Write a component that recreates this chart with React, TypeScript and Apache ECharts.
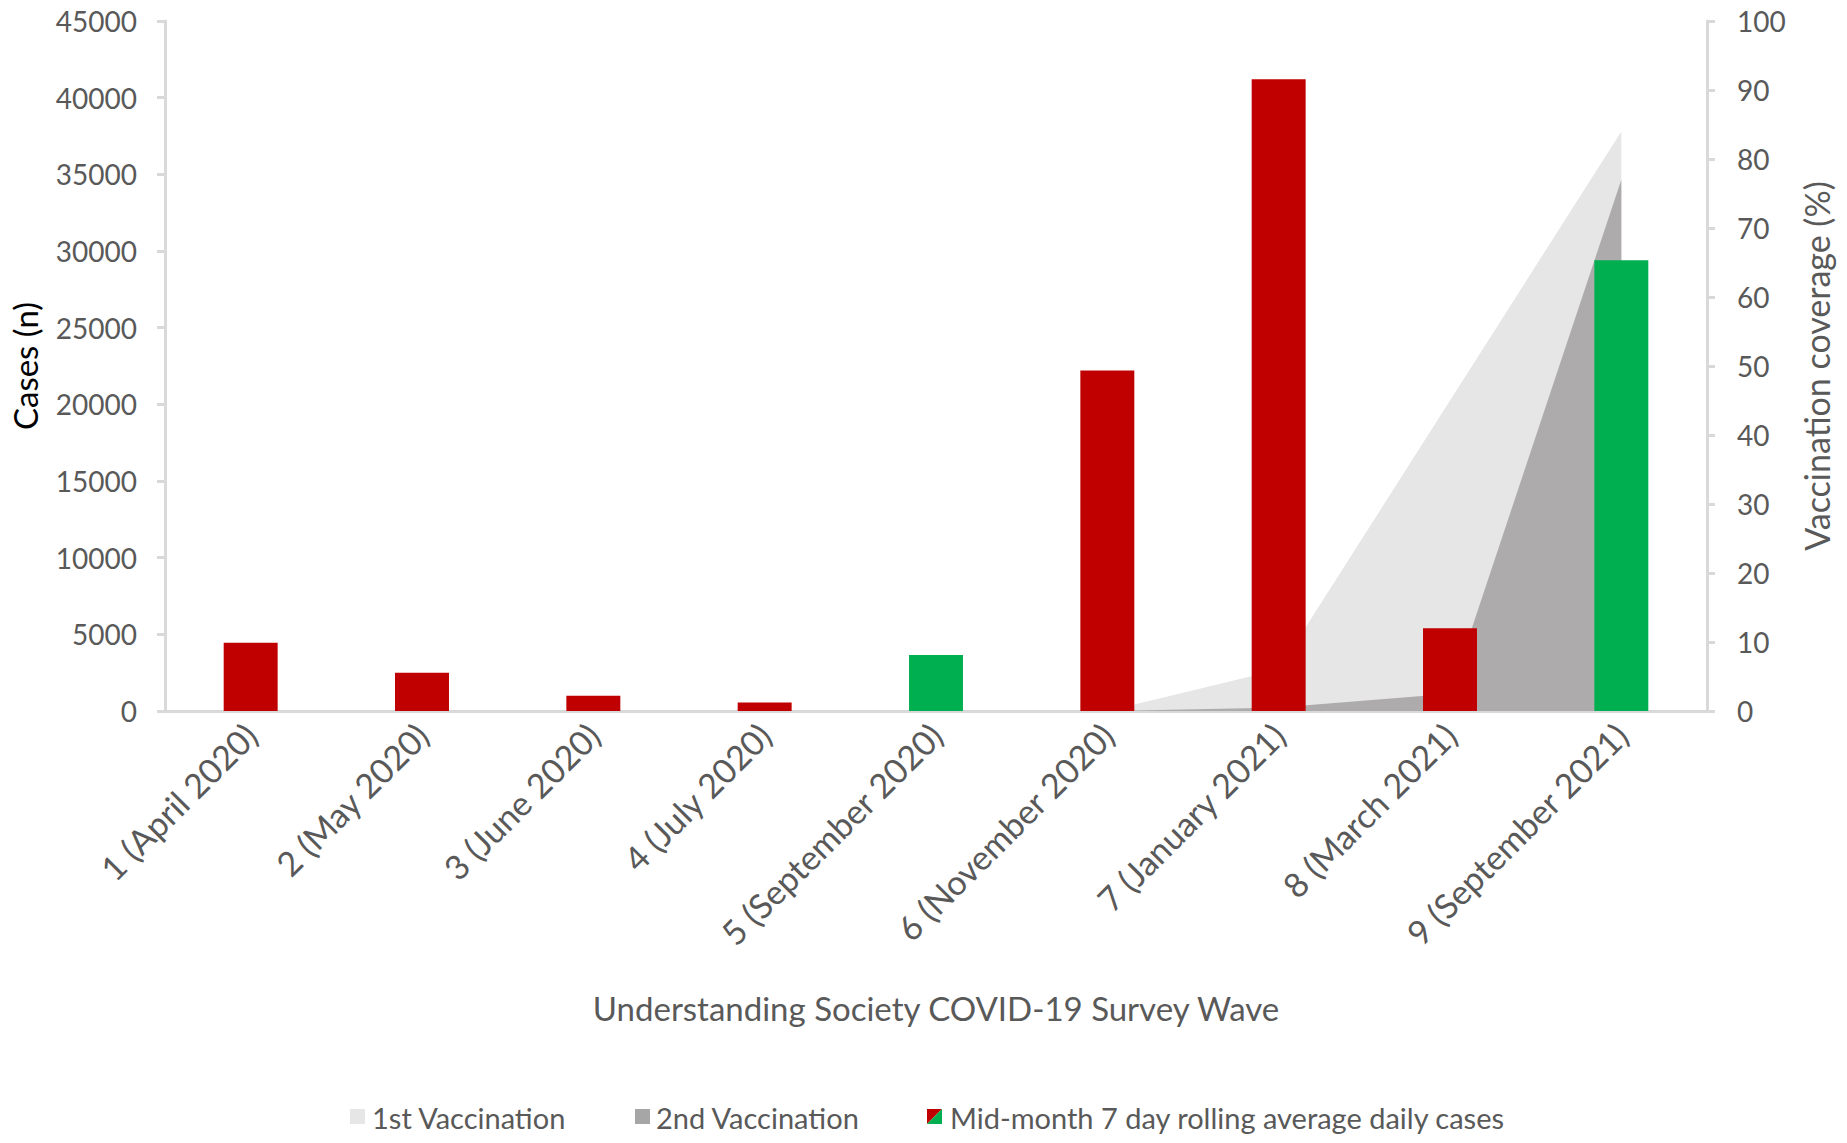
import React, { useEffect, useRef } from "react";
import * as echarts from "echarts";

const waves = [
  "1 (April 2020)",
  "2 (May 2020)",
  "3 (June 2020)",
  "4 (July 2020)",
  "5 (September 2020)",
  "6 (November 2020)",
  "7 (January 2021)",
  "8 (March 2021)",
  "9 (September 2021)",
];
const dailyCases = [4450, 2500, 1000, 550, 3650, 22200, 41200, 5400, 29400];
const firstVaccination = [null, null, null, null, null, 0, 6, 45, 84];
const secondVaccination = [null, null, null, null, null, 0, 0.5, 2.5, 77];
const casesTicks = { min: 0, max: 45000, interval: 5000 };
const coverageTicks = { min: 0, max: 100, interval: 10 };
const greenWaves = ["5 (September 2020)", "9 (September 2021)"];

const FONT = "Lato, 'Open Sans', sans-serif";
const GREY = "#595959";
const AXIS = "#d9d9d9";
const RED = "#c00000";
const GREEN = "#00b050";
const LIGHT = "#e6e6e7";
const DARK = "#adabab";

export default function App() {
  const ref = useRef<HTMLDivElement>(null);
  useEffect(() => {
    if (!ref.current) return;
    const chart = echarts.init(ref.current, undefined, { renderer: "svg" });
    const legendY = 1117;
    const legendFont = 29;
    chart.setOption({
      animation: false,
      backgroundColor: "#ffffff",
      textStyle: { fontFamily: FONT },
      grid: { left: 163, right: 140, top: 21, bottom: 432, containLabel: false },
      xAxis: {
        type: "category",
        data: waves,
        boundaryGap: true,
        axisLine: { show: true, lineStyle: { color: AXIS, width: 3 } },
        axisTick: { show: false },
        axisLabel: {
          rotate: 45,
          margin: 18,
          fontSize: 34,
          color: GREY,
          fontFamily: FONT,
          interval: 0,
        },
        name: "Understanding Society COVID-19 Survey Wave",
        nameLocation: "middle",
        nameGap: 280,
        nameTextStyle: { fontSize: 33, color: GREY, fontFamily: FONT },
      },
      yAxis: [
        {
          type: "value",
          position: "left",
          min: casesTicks.min,
          max: casesTicks.max,
          interval: casesTicks.interval,
          splitLine: { show: false },
          axisLine: { show: true, lineStyle: { color: AXIS, width: 3 } },
          axisTick: { show: true, inside: false, length: 8, lineStyle: { color: AXIS, width: 3 } },
          axisLabel: {
            fontSize: 28,
            color: GREY,
            margin: 28,
            fontFamily: FONT,
            formatter: (v: number) => String(v),
          },
          name: "Cases (n)",
          nameLocation: "middle",
          nameRotate: 90,
          nameGap: 124,
          nameTextStyle: { fontSize: 33, color: "#000000", fontFamily: FONT },
        },
        {
          type: "value",
          position: "right",
          min: coverageTicks.min,
          max: coverageTicks.max,
          interval: coverageTicks.interval,
          splitLine: { show: false },
          axisLine: { show: true, lineStyle: { color: AXIS, width: 3 } },
          axisTick: { show: true, inside: false, length: 8, lineStyle: { color: AXIS, width: 3 } },
          axisLabel: {
            fontSize: 28,
            color: GREY,
            margin: 30,
            fontFamily: FONT,
            formatter: (v: number) => String(v),
          },
          name: "Vaccination coverage (%)",
          nameLocation: "middle",
          nameRotate: 90,
          nameGap: 92,
          nameTextStyle: { fontSize: 34, color: GREY, fontFamily: FONT },
        },
      ],
      series: [
        {
          name: "1st Vaccination",
          type: "line",
          yAxisIndex: 1,
          data: firstVaccination,
          symbol: "none",
          lineStyle: { width: 0 },
          areaStyle: { color: LIGHT, opacity: 1 },
          z: 1,
        },
        {
          name: "2nd Vaccination",
          type: "line",
          yAxisIndex: 1,
          data: secondVaccination,
          symbol: "none",
          lineStyle: { width: 0 },
          areaStyle: { color: DARK, opacity: 1 },
          z: 1,
        },
        {
          name: "Mid-month 7 day rolling average daily cases",
          type: "bar",
          yAxisIndex: 0,
          barWidth: "31.5%",
          z: 3,
          data: dailyCases.map((v, i) => ({
            value: v,
            itemStyle: { color: greenWaves.includes(waves[i]) ? GREEN : RED },
          })),
        },
      ],
      graphic: [
        { type: "rect", shape: { x: 350, y: legendY - 8, width: 15, height: 15 }, style: { fill: LIGHT } },
        {
          type: "text",
          x: 372,
          y: legendY,
          style: { text: "1st Vaccination", fontSize: legendFont, fill: GREY, fontFamily: FONT, verticalAlign: "middle" },
        },
        { type: "rect", shape: { x: 635, y: legendY - 8, width: 15, height: 15 }, style: { fill: "#a6a6a6" } },
        {
          type: "text",
          x: 656,
          y: legendY,
          style: { text: "2nd Vaccination", fontSize: legendFont, fill: GREY, fontFamily: FONT, verticalAlign: "middle" },
        },
        {
          type: "polygon",
          shape: { points: [[927, legendY - 8], [942, legendY - 8], [927, legendY + 7]] },
          style: { fill: RED },
        },
        {
          type: "polygon",
          shape: { points: [[942, legendY - 8], [942, legendY + 7], [927, legendY + 7]] },
          style: { fill: GREEN },
        },
        {
          type: "text",
          x: 950,
          y: legendY,
          style: {
            text: "Mid-month 7 day rolling average daily cases",
            fontSize: legendFont,
            fill: GREY,
            fontFamily: FONT,
            verticalAlign: "middle",
          },
        },
      ],
    });
    return () => chart.dispose();
  }, []);
  return (
    <div
      ref={ref}
      style={{ position: "fixed", left: 0, top: 0, width: 1847, height: 1143, background: "#fff" }}
    />
  );
}
